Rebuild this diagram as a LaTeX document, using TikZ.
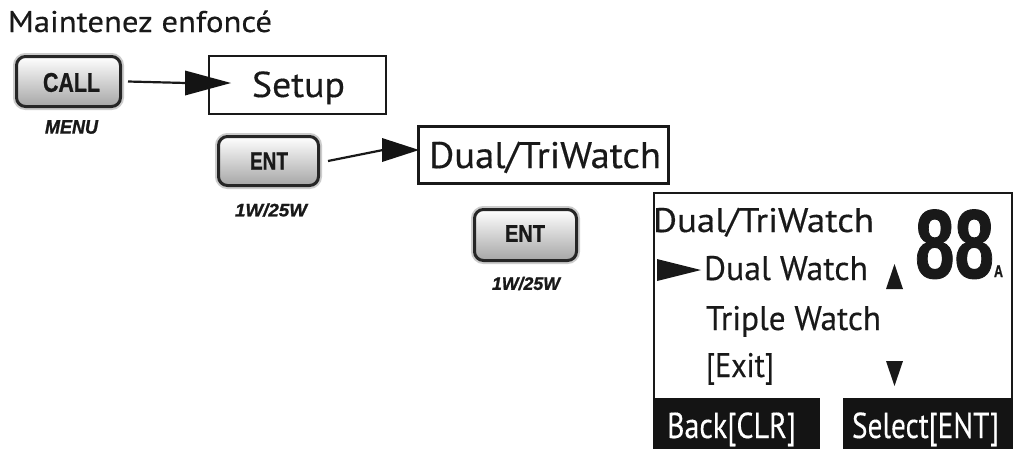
\documentclass[tikz,border=0pt]{standalone}
\usepackage{fontspec}
\usepackage{graphicx}
\setmainfont{PT Sans}[UprightFeatures={FakeBold=0.35}]
\newfontfamily\btnfont{Liberation Sans}[BoldFeatures={FakeBold=1},BoldItalicFeatures={FakeBold=1.2}]
\newcommand\fitx[2]{\sbox0{#2}\pgfmathsetmacro\fitr{#1/\the\wd0}\scalebox{\fitr}[1]{\usebox0}}
\newcommand\fs[1]{\fontsize{#1}{#1}\selectfont}
\tikzset{
  txt/.style={inner sep=0pt,outer sep=0pt,anchor=base west,text=black!90},
  ctxt/.style={inner sep=0pt,outer sep=0pt,anchor=center,text=black!90},
  btn/.style={rounded corners=9pt,draw=black!85,line width=3pt,
    top color=white,bottom color=black!35,inner sep=0pt,
    preaction={draw=black!20,line width=7pt}},
  framebox/.style={draw=black!90,inner sep=0pt,fill=white},
  bar/.style={fill=black!92,inner sep=0pt,outer sep=0pt,anchor=north west},
  conn/.style={line width=2.2pt,draw=black!90},
  head/.style={fill=black!92},
}
\begin{document}
\begin{tikzpicture}[x=1pt,y=-1pt]
\useasboundingbox[fill=white] (0,0) rectangle (1018,448);
% title
\node[txt] (title) at (8,32) {\fs{30}\fitx{264}{Maintenez enfoncé}};
% CALL button
\node[btn,minimum width=104pt,minimum height=50pt] (call) at (68.5,81.5) {};
\node[ctxt] (calltxt) at (71.5,82.5) {\btnfont\bfseries\fs{27}\fitx{57}{CALL}};
\node[ctxt] (menu) at (71.5,127) {\btnfont\bfseries\itshape\fs{19.5}\fitx{53}{MENU}};
% Setup box
\node[framebox,line width=2pt,minimum width=177pt,minimum height=58pt] (setup) at (297.5,85) {};
\node[txt] (setuptxt) at (252,97) {\fs{36}\fitx{93}{Setup}};
\coordinate (base1) at (186,83);
\draw[conn] ([xshift=6pt]call.east) -- (base1);
\fill[head] (185,70.5) -- (231,83) -- (185,95.5) -- cycle;
% ENT button 1
\node[btn,minimum width=100pt,minimum height=49pt] (ent1) at (268.5,161) {};
\node[ctxt] (ent1txt) at (269,161) {\btnfont\bfseries\fs{25}\fitx{38}{ENT}};
\node[ctxt] (pw1) at (271,210) {\btnfont\bfseries\itshape\fs{18}\fitx{72}{1W/25W}};
% Dual/TriWatch box
\node[framebox,line width=3pt,minimum width=250pt,minimum height=57pt] (dual) at (543.5,155) {};
\node[txt] (dualtxt) at (429,168) {\fs{37}\fitx{232}{Dual/TriWatch}};
\coordinate (base2) at (383,150);
\draw[conn] ([xshift=8pt]ent1.east) -- (base2);
\fill[head] (382,138) -- (419,150) -- (382,162) -- cycle;
% ENT button 2
\node[btn,minimum width=102pt,minimum height=51pt] (ent2) at (525.5,235) {};
\node[ctxt] (ent2txt) at (525,233.5) {\btnfont\bfseries\fs{24}\fitx{40}{ENT}};
\node[ctxt] (pw2) at (526,283.5) {\btnfont\bfseries\itshape\fs{18}\fitx{68}{1W/25W}};
% display
\node[framebox,line width=1.5pt,minimum width=358pt,minimum height=260pt,anchor=north west] (disp) at (653,192) {};
\node[bar,minimum width=167pt,minimum height=52pt] (backbar) at (653,398) {};
\node[bar,minimum width=170pt,minimum height=52pt] (selbar) at (843,398) {};
\node[txt] (dtitle) at (653,232) {\fs{34}\fitx{221}{Dual/TriWatch}};
\node[txt] (dw) at (704,280) {\fs{34}\fitx{164}{Dual Watch}};
\node[txt] (tw) at (706,330) {\fs{34}\fitx{175}{Triple Watch}};
\node[txt] (ex) at (706,377) {\fs{34}\fitx{68}{[Exit]}};
\node[txt] (chan) at (915,278) {\btnfont\bfseries\fs{98}\fitx{79}{88}};
\node[txt] (chA) at (994,277) {\btnfont\bfseries\fs{17}\fitx{9}{A}};
\node[txt,text=white] (backtxt) at (667,438) {\fs{36}\fitx{129}{Back[CLR]}};
\node[txt,text=white] (seltxt) at (852,438) {\fs{36}\fitx{147}{Select[ENT]}};
% pointer and scroll marks
\fill[black!90] (657,259) -- (701,270) -- (657,281) -- cycle;
\fill[black!90] (886,289) -- (903,289) -- (894.5,264) -- cycle;
\fill[black!90] (886,361) -- (903,361) -- (894.5,386) -- cycle;
\end{tikzpicture}
\end{document}
